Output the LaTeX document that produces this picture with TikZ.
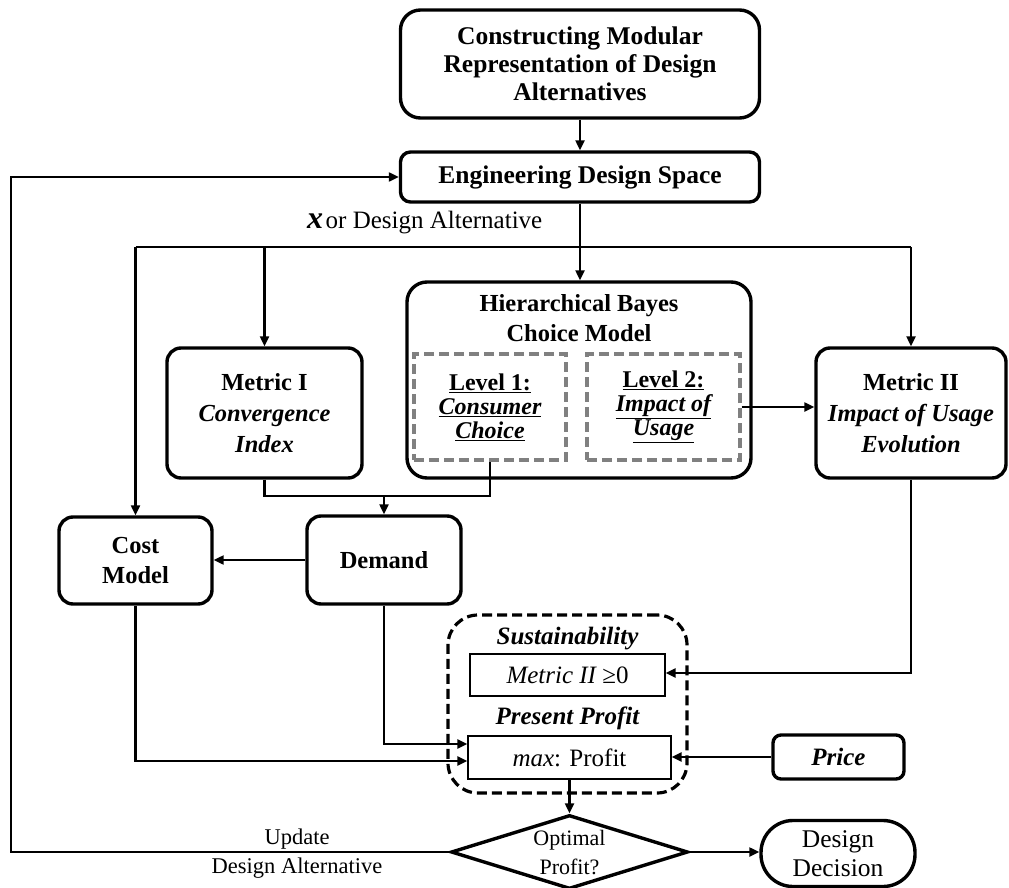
\documentclass[tikz,border=0pt]{standalone}
\usepackage{fontspec}
\setmainfont{Liberation Serif}
\usetikzlibrary{arrows.meta,shapes.geometric,calc}
\definecolor{lvlgray}{RGB}{128,128,128}
\tikzset{
  rbox/.style={draw, line width=3.4pt, rounded corners=14pt, align=center, inner sep=2pt,
    font=\bfseries\fontsize{24}{30}\selectfont},
  lvlbox/.style={draw=lvlgray, dashed, dash pattern=on 10pt off 5pt, line width=3.2pt, align=center,
    inner sep=1pt, font=\bfseries\fontsize{24}{24}\selectfont},
  thinbox/.style={draw, line width=1.3pt, align=center, inner sep=1pt, font=\fontsize{25}{30}\selectfont},
  txt/.style={align=center, inner sep=0pt},
  conn/.style={line width=2.2pt, -{Triangle[length=10pt,width=9pt]}},
  wire/.style={line width=2.2pt},
}
\begin{document}
\begin{tikzpicture}[x=1pt,y=-1pt]
\useasboundingbox (0,0) rectangle (1009,888);

% top boxes
\node[rbox, rounded corners=20pt, minimum width=359pt, minimum height=108pt, font=\bfseries\fontsize{25.5}{28}\selectfont]
  (top) at (580,64) {Constructing Modular\\Representation of Design\\Alternatives};
\node[rbox, rounded corners=10pt, minimum width=359pt, minimum height=50pt, font=\bfseries\fontsize{25.5}{30}\selectfont] (eds) at (580,177) {Engineering Design Space};
\node[txt, anchor=west] (xlab) at (307,223) {{\fontsize{32}{32}\selectfont\bfseries\itshape x} {\fontsize{25}{30}\selectfont or Design Alternative}};

% hierarchical Bayes
\node[rbox, rounded corners=20pt, minimum width=344pt, minimum height=196pt] (hb) at (579,380) {};
\node[txt, font=\bfseries\fontsize{24.5}{30}\selectfont] (hbt) at (579,318) {Hierarchical Bayes\\Choice Model};
\node[lvlbox, minimum width=152pt, minimum height=106pt] (lv1) at (490,407)
  {\underline{Level 1:}\\\underline{\itshape Consumer}\\\underline{\itshape Choice}};
\node[lvlbox, minimum width=153pt, minimum height=106pt] (lv2) at (663.5,407)
  {\underline{Level 2:}\\\underline{\itshape Impact of}\\\underline{\itshape Usage}};

\node[rbox, minimum width=195pt, minimum height=130pt, font=\bfseries\fontsize{24.5}{31}\selectfont] (m1) at (264.5,413)
  {Metric I\\\itshape Convergence\\\itshape Index};
\node[rbox, minimum width=190pt, minimum height=130pt, font=\bfseries\fontsize{24.5}{31}\selectfont] (m2) at (911,413)
  {Metric II\\\itshape Impact of Usage\\\itshape Evolution};

\node[rbox, minimum width=153pt, minimum height=87pt, font=\bfseries\fontsize{24.5}{30}\selectfont] (cost) at (135.5,560.5) {Cost\\Model};
\node[rbox, minimum width=154pt, minimum height=88pt, font=\bfseries\fontsize{24.5}{30}\selectfont] (dem) at (384,560) {Demand};

% container
\node[draw, dashed, dash pattern=on 10pt off 5pt, line width=3.2pt, rounded corners=30pt,
  minimum width=239pt, minimum height=178pt] (cont) at (567.5,704) {};
\node[txt, font=\bfseries\itshape\fontsize{25}{30}\selectfont] (sus) at (567.5,639) {Sustainability};
\node[thinbox, minimum width=195pt, minimum height=42pt] (m20) at (567.5,675) {\itshape Metric II \upshape≥0};
\node[txt, font=\bfseries\itshape\fontsize{25}{30}\selectfont] (pp) at (567.5,718) {Present Profit};
\node[thinbox, minimum width=203pt, minimum height=43pt] (prof) at (569.5,757.5) {\itshape max\upshape: Profit};

\node[rbox, rounded corners=8pt, minimum width=131pt, minimum height=44pt, font=\bfseries\itshape\fontsize{25}{30}\selectfont] (price) at (838.5,757) {Price};

\node[draw, diamond, line width=3.4pt, minimum width=237pt, minimum height=74pt, inner sep=0pt] (opt) at (569.5,852) {};
\node[txt, font=\fontsize{22}{29}\selectfont] (optt) at (569.5,853) {Optimal\\Profit?};

\node[rbox, rounded corners=32pt, minimum width=154pt, minimum height=66pt, font=\fontsize{25.5}{29}\selectfont] (dec) at (838,853.5) {Design\\Decision};

\node[txt, font=\fontsize{22.5}{29}\selectfont] (upd) at (297,839) {Update};
\node[txt, font=\fontsize{22.5}{29}\selectfont] (upd2) at (297,868) {Design Alternative};

% connectors
\draw[conn] (top.south) -- (eds.north);
\coordinate (fbl) at (11,852);
\coordinate (fbu) at (11,177);
\draw[conn] (opt.west) -- (fbl) -- (fbu) -- (eds.west);
\draw[conn] (eds.south) -- (eds.south |- hb.north);
\coordinate (bar) at (0,247);
\draw[wire] (cost.north |- bar) -- (m2.north |- bar);
\draw[conn] (cost.north |- bar) -- (cost.north);
\draw[conn] (m1.north |- bar) -- (m1.north);
\draw[conn] (m2.north |- bar) -- (m2.north);
\draw[conn] (lv2.east) -- (lv2.east -| m2.west);
\coordinate (dj) at (0,496);
\draw[wire] (m1.south) -- (m1.south |- dj) -- (lv1.south |- dj) -- (lv1.south);
\draw[conn] (dem.north |- dj) -- (dem.north);
\draw[conn] (dem.west) -- (dem.west -| cost.east);
\coordinate (cj) at (0,761);
\coordinate (dj2) at (0,744);
\draw[conn] (cost.south) -- (cost.south |- cj) -- (cj -| prof.west);
\draw[conn] (dem.south) -- (dem.south |- dj2) -- (dj2 -| prof.west);
\coordinate (mj) at (0,673);
\draw[conn] (m2.south) -- (m2.south |- mj) -- (mj -| m20.east);
\draw[conn] (price.west) -- (price.west -| prof.east);
\draw[conn] (prof.south) -- (prof.south |- opt.north);
\draw[conn] (opt.east) -- (opt.east -| dec.west);
\end{tikzpicture}
\end{document}
